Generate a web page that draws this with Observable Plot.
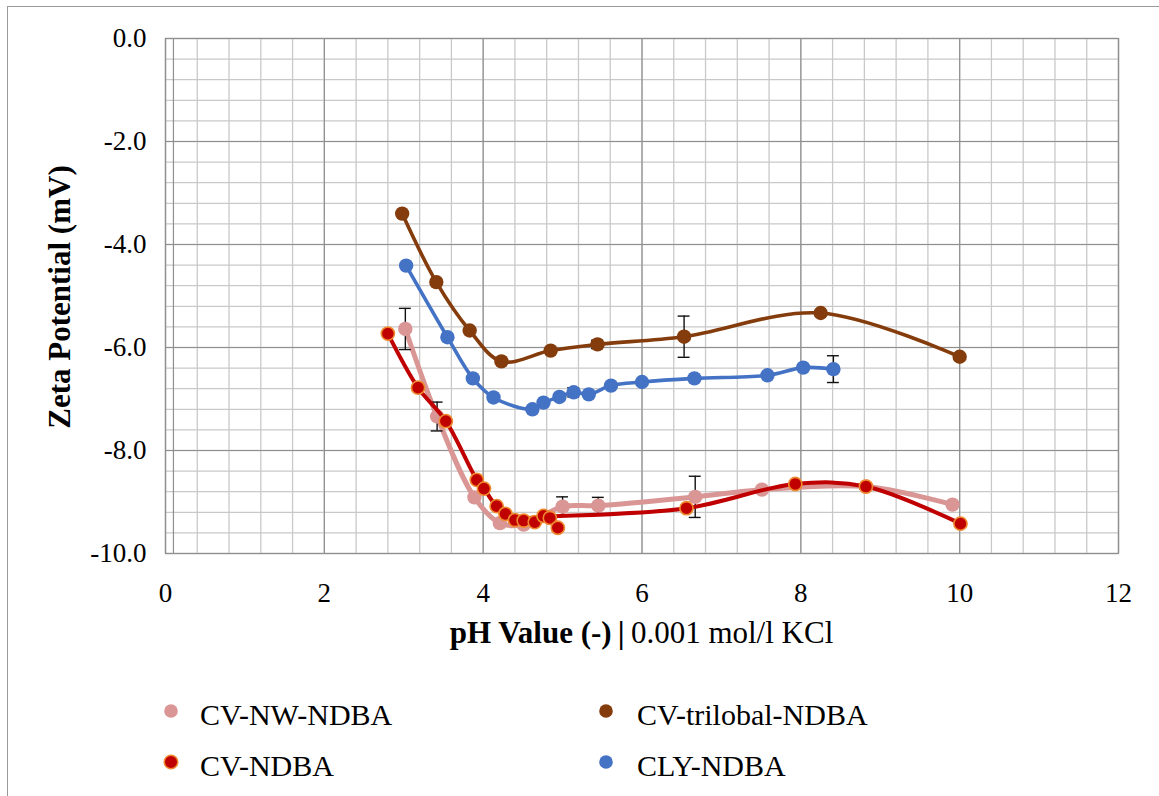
<!DOCTYPE html>
<html>
<head>
<meta charset="utf-8">
<script src="https://cdn.jsdelivr.net/npm/d3@7"></script>
<script src="https://cdn.jsdelivr.net/npm/@observablehq/plot@0.6"></script>
<style>
  body { margin: 0; background: #fff; }
  #wrap { position: relative; width: 1159px; height: 796px; overflow: hidden; font-family: "Liberation Serif", "DejaVu Serif", serif; }
  #chart { position: absolute; left: 0; top: 0; }
  #legend { position: absolute; left: 0; top: 660px; }
  #border { position: absolute; left: 7px; top: 6px; width: 1300px; height: 900px; border-top: 1.5px solid #9a9a9a; border-left: 1.5px solid #9a9a9a; pointer-events: none; }
  #chart svg text, #legend svg text { font-family: "Liberation Serif", "DejaVu Serif", serif !important; }
</style>
</head>
<body>
<div id="wrap">
  <div id="chart"></div>
  <div id="legend"></div>
  <div id="border"></div>
</div>
<script>
// Series names and colours, in drawing / legend order
const seriesNames  = ["CV-NW-NDBA", "CV-NDBA", "CV-trilobal-NDBA", "CLY-NDBA"];
const seriesColors = ["#D99694", "#C00000", "#843C0C", "#4472C4"];

// CV-NW-NDBA
const nwPH   = [3.02, 3.42, 3.89, 4.21, 4.51, 5.00, 5.45, 6.67, 7.51, 8.82, 9.91];
const nwZeta = [-5.64, -7.34, -8.91, -9.41, -9.44, -9.09, -9.07, -8.90, -8.76, -8.70, -9.05];
const nwErr  = [0.40, 0.28, 0, 0, 0, 0.19, 0.16, 0.40, 0, 0, 0];

// CV-NDBA (markers)
const cvPH   = [2.80, 3.18, 3.53, 3.92, 4.01, 4.17, 4.28, 4.40, 4.51, 4.65, 4.76, 4.84, 4.94, 6.56, 7.93, 8.82, 10.01];
const cvZeta = [-5.73, -6.78, -7.43, -8.57, -8.74, -9.08, -9.23, -9.35, -9.36, -9.39, -9.27, -9.31, -9.50, -9.12, -8.65, -8.70, -9.42];
const cvErr  = [0, 0, 0, 0, 0, 0, 0, 0, 0, 0, 0, 0, 0, 0, 0, 0.05, 0];
// CV-NDBA (smoothed line)
const cvLinePH   = [2.80, 3.18, 3.53, 3.92, 4.01, 4.17, 4.40, 4.84, 6.56, 7.93, 8.82, 10.01];
const cvLineZeta = [-5.73, -6.78, -7.43, -8.57, -8.74, -9.08, -9.30, -9.28, -9.12, -8.65, -8.70, -9.42];

// CV-trilobal-NDBA
const triPH   = [2.98, 3.41, 3.83, 4.23, 4.85, 5.44, 6.53, 8.25, 10.00];
const triZeta = [-3.40, -4.73, -5.67, -6.27, -6.06, -5.94, -5.79, -5.33, -6.18];
const triErr  = [0, 0, 0, 0, 0, 0.08, 0.40, 0.04, 0];

// CLY-NDBA
const clyPH   = [3.03, 3.55, 3.87, 4.13, 4.62, 4.76, 4.96, 5.14, 5.33, 5.61, 6.00, 6.66, 7.58, 8.03, 8.41];
const clyZeta = [-4.41, -5.80, -6.60, -6.97, -7.20, -7.07, -6.96, -6.87, -6.91, -6.74, -6.67, -6.60, -6.54, -6.39, -6.42];
const clyErr  = [0, 0, 0, 0, 0, 0, 0, 0.09, 0, 0, 0, 0, 0.04, 0, 0.26];

// Axis ticks
const xMajor = [0, 2, 4, 6, 8, 10, 12];
const yMajor = [0, -2, -4, -6, -8, -10];
const xMinor = d3.range(31).map(i => +(i * 0.4).toFixed(1));
const yMinor = d3.range(26).map(i => -(+(i * 0.4).toFixed(1)));
const axisCross = 0.1;

const serifFont = "'Liberation Serif', 'DejaVu Serif', serif";

// Build tables
const rows = (name, ph, z, err) => ph.map((p, i) => ({name, ph: p, zeta: z[i], err: err ? err[i] : 0}));
const nwRows  = rows(seriesNames[0], nwPH, nwZeta, nwErr);
const cvRows  = rows(seriesNames[1], cvPH, cvZeta, cvErr);
const cvLine  = rows(seriesNames[1], cvLinePH, cvLineZeta);
const triRows = rows(seriesNames[2], triPH, triZeta, triErr);
const clyRows = rows(seriesNames[3], clyPH, clyZeta, clyErr);

const capHalf = 0.075;
function errorBars(data) {
  const e = data.filter(d => d.err > 0);
  return [
    Plot.ruleX(e, {x: "ph", y1: d => d.zeta - d.err, y2: d => d.zeta + d.err, stroke: "#111", strokeWidth: 1.4}),
    Plot.ruleY(e, {y: d => d.zeta + d.err, x1: d => d.ph - capHalf, x2: d => d.ph + capHalf, stroke: "#111", strokeWidth: 1.4}),
    Plot.ruleY(e, {y: d => d.zeta - d.err, x1: d => d.ph - capHalf, x2: d => d.ph + capHalf, stroke: "#111", strokeWidth: 1.4})
  ];
}

const minorGrid = "#c9c9c9", majorGrid = "#8f8f8f";

const plot = Plot.plot({
  width: 1159,
  height: 660,
  marginLeft: 165,
  marginRight: 41,
  marginTop: 38,
  marginBottom: 107,
  style: {fontFamily: serifFont, fontSize: "27px", background: "transparent", color: "#000"},
  x: {domain: [0, 12], ticks: xMajor, tickSize: 0, tickPadding: 29, label: null, tickFormat: d => String(d)},
  y: {domain: [-10, 0], ticks: yMajor, tickSize: 0, tickPadding: 19, label: null, tickFormat: d => d.toFixed(1)},
  marks: [
    Plot.ruleX(xMinor, {stroke: minorGrid, strokeWidth: 1.3}),
    Plot.ruleY(yMinor, {stroke: minorGrid, strokeWidth: 1.3}),
    Plot.ruleX(xMajor, {stroke: majorGrid, strokeWidth: 1.2}),
    Plot.ruleY(yMajor, {stroke: majorGrid, strokeWidth: 1.2}),
    Plot.ruleX([axisCross], {stroke: majorGrid, strokeWidth: 1.2}),
    Plot.frame({stroke: majorGrid, strokeWidth: 1.2}),

    // CV-NW-NDBA
    Plot.line(nwRows, {x: "ph", y: "zeta", stroke: seriesColors[0], strokeWidth: 5, curve: "catmull-rom"}),
    ...errorBars(nwRows),
    Plot.dot(nwRows, {x: "ph", y: "zeta", r: 7.2, fill: seriesColors[0]}),

    // CV-NDBA
    Plot.line(cvLine, {x: "ph", y: "zeta", stroke: seriesColors[1], strokeWidth: 4, curve: "catmull-rom"}),
    ...errorBars(cvRows),
    Plot.dot(cvRows, {x: "ph", y: "zeta", r: 6.6, fill: seriesColors[1], stroke: "#F08A30", strokeWidth: 1.6}),

    // CV-trilobal-NDBA
    Plot.line(triRows, {x: "ph", y: "zeta", stroke: seriesColors[2], strokeWidth: 3.6, curve: "catmull-rom"}),
    ...errorBars(triRows),
    Plot.dot(triRows, {x: "ph", y: "zeta", r: 7.2, fill: seriesColors[2]}),

    // CLY-NDBA
    Plot.line(clyRows, {x: "ph", y: "zeta", stroke: seriesColors[3], strokeWidth: 3.6, curve: "catmull-rom"}),
    ...errorBars(clyRows),
    Plot.dot(clyRows, {x: "ph", y: "zeta", r: 7.2, fill: seriesColors[3]})
  ]
});
document.getElementById("chart").appendChild(plot);

// Axis titles
const svg = d3.select(plot);
const xt = svg.append("text")
  .attr("x", (165 + 1118) / 2)
  .attr("y", 643)
  .attr("text-anchor", "middle")
  .attr("font-size", 31)
  .attr("fill", "#000");
xt.append("tspan").attr("font-weight", "bold").text("pH Value (-)\u2009|\u2009");
xt.append("tspan").text("0.001 mol/l KCl");

svg.append("text")
  .attr("transform", "translate(70,297) rotate(-90)")
  .attr("text-anchor", "middle")
  .attr("font-size", 31)
  .attr("font-weight", "bold")
  .attr("fill", "#000")
  .text("Zeta Potential (mV)");

// Legend: two columns, two rows
const legendCols = [171, 606];
const legendRows = [51, 102];
const legendOrder = [[0, 0], [1, 0], [0, 1], [1, 1]]; // [row, col] per series
const lg = d3.select("#legend").append("svg")
  .attr("width", 1159).attr("height", 136)
  .style("font-family", serifFont);
seriesNames.forEach((name, i) => {
  const [r, c] = legendOrder[i];
  const g = lg.append("g").attr("transform", `translate(${legendCols[c]},${legendRows[r]})`);
  g.append("circle").attr("r", 6.8).attr("fill", seriesColors[i])
    .attr("stroke", i === 1 ? "#F08A30" : "none").attr("stroke-width", 1.5);
  g.append("text").attr("x", c === 0 ? 29 : 31).attr("y", 14)
    .attr("font-size", 30).attr("fill", "#000").text(name);
});
</script>
</body>
</html>
